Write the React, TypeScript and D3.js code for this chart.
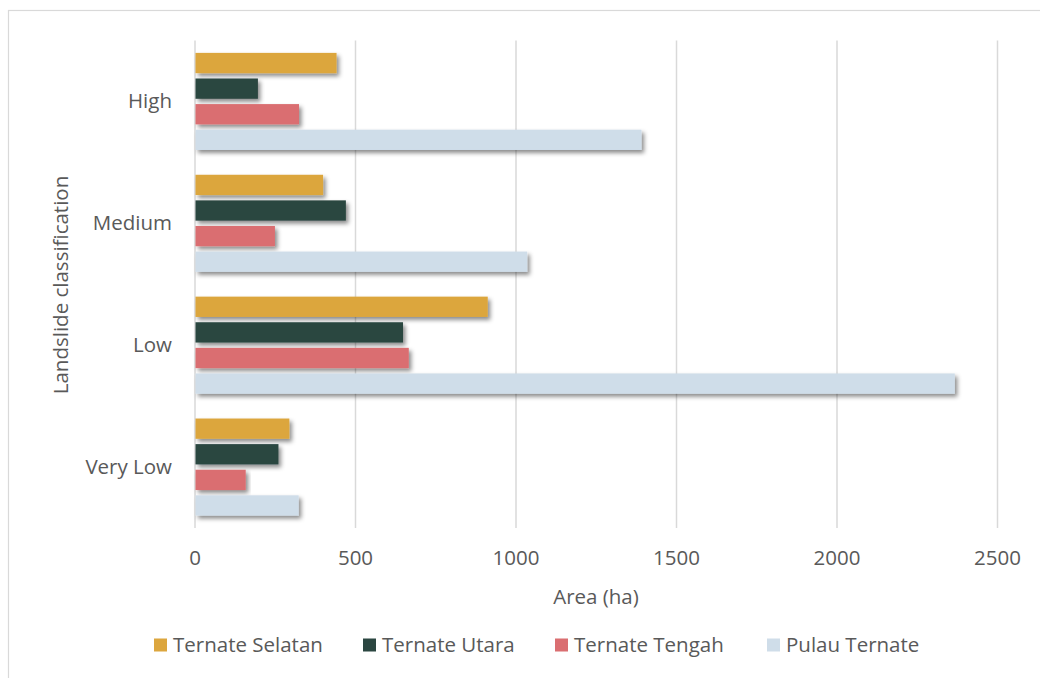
import React from "react";
import * as d3 from "d3";

const categories = ["High", "Medium", "Low", "Very Low"];
const seriesNames = ["Ternate Selatan", "Ternate Utara", "Ternate Tengah", "Pulau Ternate"];
const ternateSelatan = [441, 399, 912, 294];
const ternateUtara = [196, 470, 648, 260];
const ternateTengah = [324, 249, 666, 158];
const pulauTernate = [1391, 1035, 2367, 323];
const xTicks = [0, 500, 1000, 1500, 2000, 2500];
const colors = ["#DCA63E", "#2B4641", "#DA6E71", "#CFDDE9"];

const seriesValues = [ternateSelatan, ternateUtara, ternateTengah, pulauTernate];

const W = 1040;
const H = 678;
const FONT = "'Open Sans', sans-serif";
const FS = 20.5;
const TEXT = "#595959";

export default function App() {
  const x = d3.scaleLinear().domain([0, 2500]).range([195, 997.5]);
  const y = d3.scaleBand<string>().domain(categories).range([40.5, 528]).padding(0);
  const inner = d3
    .scaleBand<string>()
    .domain(seriesNames)
    .range([0, y.bandwidth()])
    .paddingInner(0.207)
    .paddingOuter(0.484);

  const legendX = [154, 363, 555, 767];

  return (
    <svg width={W} height={H} style={{ position: "absolute", left: 0, top: 0 }}>
      <defs>
        <filter id="shadow" x="-5%" y="-30%" width="115%" height="190%">
          <feDropShadow dx="2.5" dy="3" stdDeviation="2" floodColor="#000" floodOpacity="0.45" />
        </filter>
      </defs>
      <rect x={0} y={0} width={W} height={H} fill="#fff" />
      <rect x={8.5} y={10.5} width={1100} height={720} fill="#fff" stroke="#d9d9d9" strokeWidth={1.2} />

      {xTicks.map((t) => (
        <line
          key={"g" + t}
          x1={x(t)}
          x2={x(t)}
          y1={40.5}
          y2={528}
          stroke="#d9d9d9"
          strokeWidth={1.5}
        />
      ))}

      {categories.map((c, ci) =>
        seriesNames.map((s, si) => {
          const v = seriesValues[si][ci];
          return (
            <rect
              key={c + s}
              x={x(0) + 0.5}
              y={(y(c) as number) + (inner(s) as number)}
              width={x(v) - x(0) - 0.5}
              height={inner.bandwidth()}
              fill={colors[si]}
              filter="url(#shadow)"
            />
          );
        })
      )}

      {xTicks.map((t) => (
        <text
          key={"t" + t}
          x={x(t)}
          y={565}
          textAnchor="middle"
          fontFamily={FONT}
          fontSize={FS}
          fill={TEXT}
        >
          {t}
        </text>
      ))}

      {categories.map((c) => (
        <text
          key={"c" + c}
          x={172}
          y={(y(c) as number) + y.bandwidth() / 2 + 7}
          textAnchor="end"
          fontFamily={FONT}
          fontSize={FS}
          fill={TEXT}
        >
          {c}
        </text>
      ))}

      <text
        x={596}
        y={604}
        textAnchor="middle"
        fontFamily={FONT}
        fontSize={FS}
        fill={TEXT}
      >
        Area (ha)
      </text>

      <text
        transform={`translate(68, 285) rotate(-90)`}
        textAnchor="middle"
        fontFamily={FONT}
        fontSize={FS}
        fill={TEXT}
      >
        Landslide classification
      </text>

      {seriesNames.map((s, i) => (
        <g key={"l" + s}>
          <rect x={legendX[i]} y={638.5} width={13} height={13} fill={colors[i]} />
          <text
            x={legendX[i] + 19}
            y={652}
            fontFamily={FONT}
            fontSize={FS}
            fill={TEXT}
          >
            {s}
          </text>
        </g>
      ))}
    </svg>
  );
}
